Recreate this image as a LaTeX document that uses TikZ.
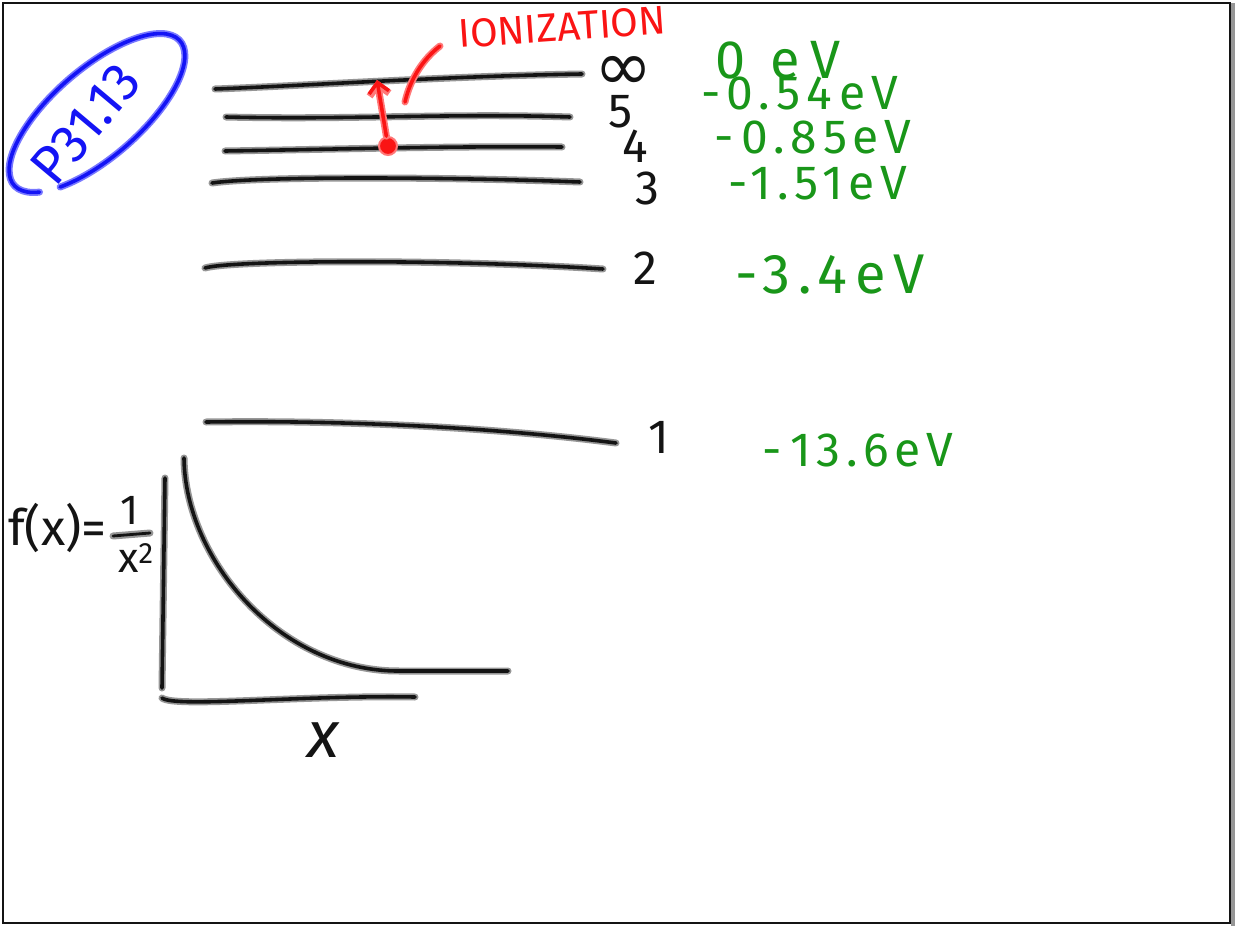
\documentclass[tikz,border=0pt]{standalone}
\usepackage{fontspec}
\setmainfont{Fira Sans}
\newfontfamily\dejavu{DejaVu Sans}
\newfontfamily\hand[LetterSpace=12]{Fira Sans}
\newfontfamily\handw[LetterSpace=20]{Fira Sans}
\newfontfamily\handm[LetterSpace=14]{Fira Sans}
\usetikzlibrary{arrows.meta}
\definecolor{ink}{RGB}{20,20,20}
\definecolor{halo}{RGB}{150,150,150}
\definecolor{grn}{RGB}{25,150,25}
\definecolor{redc}{RGB}{250,20,20}
\definecolor{redh}{RGB}{255,120,120}
\definecolor{blu}{RGB}{20,20,245}
\definecolor{bluh}{RGB}{120,120,255}
\tikzset{
  inkline/.style={preaction={draw=halo,line width=7pt,line cap=round}, draw=ink, line width=3.6pt, line cap=round, line join=round},
  redline/.style={preaction={draw=redh,line width=7pt,line cap=round}, draw=redc, line width=3.6pt, line cap=round, line join=round},
  blueline/.style={preaction={draw=bluh,line width=7pt,line cap=round}, draw=blu, line width=3.6pt, line cap=round},
  lvl/.style={font=\fontsize{48}{48}\selectfont, text=ink, inner sep=0pt},
  ev/.style={font=\hand\fontsize{48}{48}\selectfont, text=grn, inner sep=0pt},
  hand/.style={inner sep=0pt},
}
\begin{document}
\begin{tikzpicture}[x=1pt,y=-1pt]
\useasboundingbox (0,0) rectangle (1235,926);
\fill[white] (0,0) rectangle (1235,926);
\draw[line width=2.5pt, draw=ink] (3,3) rectangle (1230,923);
\fill[halo] (1231,3) rectangle (1235,926);

% energy levels
\coordinate (linfL) at (215,89);  \coordinate (linfR) at (582,74);
\coordinate (l5L) at (226,117);   \coordinate (l5R) at (570,117);
\coordinate (l4L) at (225,151);   \coordinate (l4R) at (562,147);
\coordinate (l3L) at (212,183);   \coordinate (l3R) at (580,182);
\coordinate (l2L) at (205,268);   \coordinate (l2R) at (603,269);
\coordinate (l1L) at (206,422);   \coordinate (l1R) at (616,443);
\draw[inkline] (linfL) .. controls (300,86) and (450,76) .. (linfR);
\draw[inkline] (l5L) .. controls (350,120) and (450,113) .. (l5R);
\draw[inkline] (l4L) .. controls (350,149) and (450,146) .. (l4R);
\draw[inkline] (l3L) .. controls (260,176) and (450,177) .. (l3R);
\draw[inkline] (l2L) .. controls (230,260) and (450,259) .. (l2R);
\draw[inkline] (l1L) .. controls (350,420) and (500,428) .. (l1R);

% level numbers
\node[lvl, font=\dejavu\fontsize{70}{70}\selectfont] (ninf) at (624,73) {∞};
\node[lvl] (n5) at (621,112) {5};
\node[lvl] (n4) at (635,146) {4};
\node[lvl] (n3) at (647,188) {3};
\node[lvl] (n2) at (645,268) {2};
\node[lvl] (n1) at (659,437) {1};

% energies
\node[ev, font=\handw\fontsize{54}{54}\selectfont] (e0) at (778,60) {0 eV};
\node[ev] (e5) at (800,93) {-0.54\,eV};
\node[ev] (e4) at (813,137) {-\,0.85eV};
\node[ev] (e3) at (818,183) {-1.51eV};
\node[ev, font=\handm\fontsize{56}{56}\selectfont] (e2) at (830,275) {-3.4eV};
\node[ev] (e1) at (858,450) {-\,13.6eV};

% ionization
\node[hand, text=redc, font=\fontsize{40}{40}\selectfont, rotate=4] (ion) at (562,27) {IONIZATION};
\node[circle, fill=redc, draw=redh, line width=2pt, minimum size=18pt, inner sep=0pt] (dot) at (388,146) {};
\coordinate (atop) at (377,80);
\coordinate (ptrtop) at (440,46);
\coordinate (ptr) at (405,102);
\draw[redline, -{Straight Barb[length=10pt,width=20pt]}] (dot) -- (atop);
\draw[redline] (ptrtop) .. controls (422,60) and (410,80) .. (ptr);

% problem label
\begin{scope}[shift={(97,113)}, rotate=41]
  \draw[blueline] (150:110 and 44) arc[start angle=150, end angle=494, x radius=110, y radius=44];
\end{scope}
\node[hand, text=blu, font=\fontsize{54}{54}\selectfont, rotate=50] (prob) at (86,124) {P31.13};

% graph
\coordinate (yaxT) at (165,478);
\coordinate (yaxB) at (162,688);
\coordinate (xaxL) at (162,698);
\coordinate (xaxR) at (415,697);
\draw[inkline] (yaxT) -- (yaxB);
\draw[inkline] (xaxL) .. controls (175,708) and (300,695) .. (xaxR);
\coordinate (cS) at (184,458);
\coordinate (cE) at (508,671);
\draw[inkline] (cS) .. controls (185,560) and (280,672) .. (400,671) -- (cE);
\node[hand, font=\fontsize{66}{66}\selectfont, text=ink] (xl) at (323,740) {\itshape x};
\node[hand, font=\fontsize{50}{50}\selectfont, text=ink, anchor=west] (fx) at (8,528) {f(x)=};
\node[hand, font=\fontsize{42}{42}\selectfont, text=ink] (fnum) at (130,510) {1};
\node[hand, font=\fontsize{42}{42}\selectfont, text=ink] (fden) at (136,558) {x\textsuperscript{2}};
\draw[inkline, line width=2.8pt] (113,536) coordinate (barL) -- (150,533) coordinate (barR);
\end{tikzpicture}
\end{document}
